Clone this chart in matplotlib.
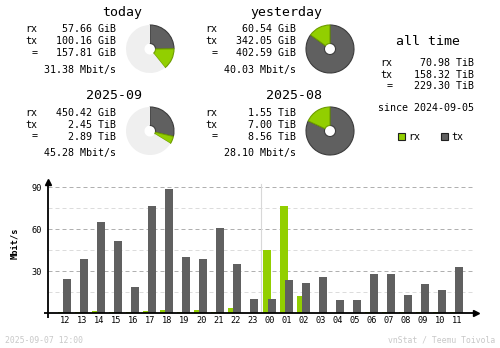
import numpy as np
import matplotlib
matplotlib.use('Agg')
import matplotlib.pyplot as plt
from matplotlib.patches import Patch

plt.rcParams['font.family'] = ['DejaVu Sans Mono']

RX = '#92cf00'
TX = '#606060'
RX_EDGE = '#6e9c00'
TX_EDGE = '#3c3c3c'
PIE_BG = '#efefef'
FAINT = '#c8c8c8'

# hourly average rate, Mbit/s
hours = ['12', '13', '14', '15', '16', '17', '18', '19', '20', '21', '22', '23',
         '00', '01', '02', '03', '04', '05', '06', '07', '08', '09', '10', '11']
rx_rate = [0.7, 0.7, 1.4, 0.7, 0.7, 1.4, 2.1, 0.7, 2.1, 0.7, 3.8, 0.0,
           45.1, 76.5, 12.1, 0.0, 0.0, 0.0, 0.7, 0.7, 0.7, 0.7, 0.7, 0.7]
tx_rate = [24.3, 38.7, 65.2, 51.6, 18.6, 76.6, 88.8, 40.1, 38.7, 60.9, 35.1, 10.0,
           10.0, 23.6, 21.5, 25.8, 9.3, 9.3, 27.9, 27.9, 12.9, 20.8, 16.5, 32.9]

# summary blocks
periods = ['today', 'yesterday', '2025-09', '2025-08']
rx_val = [57.66, 60.54, 450.42, 1.55]
rx_unit = ['GiB', 'GiB', 'GiB', 'TiB']
tx_val = [100.16, 342.05, 2.45, 7.00]
tx_unit = ['GiB', 'GiB', 'TiB', 'TiB']
sum_val = [157.81, 402.59, 2.89, 8.56]
sum_unit = ['GiB', 'GiB', 'TiB', 'TiB']
avg_rate = [31.38, 40.03, 45.28, 28.10]

alltime_val = [70.98, 158.32, 229.30]
alltime_unit = ['TiB', 'TiB', 'TiB']
since = '2024-09-05'
stamp = '2025-09-07 12:00'

W, H = 500, 348


def gib(v, u):
    return v * 1024 if u == 'TiB' else v


def fmt(v, u):
    return f'{v:.2f} {u}'


fig = plt.figure(figsize=(W / 100, H / 100), dpi=100)
bg = fig.add_axes([0, 0, 1, 1])
bg.set_xlim(0, W)
bg.set_ylim(H, 0)
bg.axis('off')

body = dict(fontsize=7.2, color='black', va='baseline')

# block origin: (x offset, title baseline)
blocks = [(0, 16), (180, 16), (0, 99), (180, 99)]
title_right = [142, 322, 142, 322]
pie_y = [49, 49, 131, 131]

def draw_pie(cx, cy, rx_g, tx_g, share):
    pax = fig.add_axes([(cx - 26) / W, (H - cy - 26) / H, 52 / W, 52 / H])
    tot = rx_g + tx_g
    sizes = [tx_g / tot * share, rx_g / tot * share]
    colors = [TX, RX]
    edges = [TX_EDGE, RX_EDGE]
    widths = [0.8, 0.8]
    if share < 0.999:
        sizes.append(1 - share)
        colors.append(PIE_BG)
        edges.append(PIE_BG)
        widths.append(0)
    wedges, _ = pax.pie(sizes, colors=colors, startangle=90, counterclock=False,
                        normalize=False, wedgeprops=dict(width=0.77))
    for w, e, lw in zip(wedges, edges, widths):
        w.set_edgecolor(e)
        w.set_linewidth(lw)
    lim = 26 / 24
    pax.set_xlim(-lim, lim)
    pax.set_ylim(-lim, lim)
    pax.axis('off')


for i, name in enumerate(periods):
    ox, tb = blocks[i]
    bg.text(title_right[i], tb, name, fontsize=9.5, ha='right', va='baseline')
    rows = [('rx', fmt(rx_val[i], rx_unit[i])),
            ('tx', fmt(tx_val[i], tx_unit[i])),
            ('=', fmt(sum_val[i], sum_unit[i]))]
    for j, (lab, val) in enumerate(rows):
        y = tb + 16.5 + 12 * j
        bg.text(37.5 + ox, y, lab, ha='right', **body)
        bg.text(115.5 + ox, y, val, ha='right', **body)
    bg.text(115.5 + ox, tb + 57, f'{avg_rate[i]:.2f} Mbit/s', ha='right', **body)

    # today is compared with yesterday, this month with last month
    pair = i - i % 2
    ref = max(gib(sum_val[pair], sum_unit[pair]), gib(sum_val[pair + 1], sum_unit[pair + 1]))
    share = gib(sum_val[i], sum_unit[i]) / ref
    draw_pie(150 + ox, pie_y[i], gib(rx_val[i], rx_unit[i]), gib(tx_val[i], tx_unit[i]), share)

# all time block
bg.text(428.5, 45, 'all time', fontsize=9.5, ha='center', va='baseline')
for j, lab in enumerate(['rx', 'tx', '=']):
    y = 66 + 11.7 * j
    bg.text(392.5, y, lab, ha='right', **body)
    bg.text(474.5, y, fmt(alltime_val[j], alltime_unit[j]), ha='right', **body)
bg.text(474.5, 111, 'since ' + since, ha='right', **body)

handles = [Patch(facecolor=RX, edgecolor='#202020', linewidth=0.8),
           Patch(facecolor=TX, edgecolor='#202020', linewidth=0.8)]
fig.legend(handles, ['rx', 'tx'], loc='center', bbox_to_anchor=(430.5 / W, (H - 136.5) / H),
           ncol=2, frameon=False, fontsize=7.2, handlelength=0.7, handleheight=0.7,
           handletextpad=0.4, columnspacing=2.0, borderpad=0)

# footer
bg.text(5, 342.7, stamp, fontsize=5.9, color=FAINT, ha='left', va='baseline')
bg.text(495, 342.7, 'vnStat / Teemu Toivola', fontsize=5.9, color=FAINT, ha='right', va='baseline')

# hourly bar chart
ax = fig.add_axes([48 / W, (H - 313) / H, 425 / W, 132 / H])
ax.patch.set_alpha(0)
x = np.arange(len(hours))
ax.bar(x - 0.176, rx_rate, width=0.47, color=RX, linewidth=0, zorder=3)
ax.bar(x + 0.117, tx_rate, width=0.47, color=TX, linewidth=0, zorder=4)
ax.set_xlim(-1.0, 23.94)
ax.set_ylim(0, 94.3)

for v in [15, 45, 75]:
    ax.axhline(v, color='#dcdcdc', lw=0.72, ls=(0, (4, 3)), zorder=1)
for v in [30, 60, 90]:
    ax.axhline(v, color='#b0b0b0', lw=0.72, ls=(0, (4, 3)), zorder=1)
ax.axvline(11.5, ymax=(313 - 184) / 132, color='#d8d8d8', lw=0.8, zorder=2)

for s in ax.spines.values():
    s.set_visible(False)
ax.plot([-4 / 425, 428 / 425], [0, 0], transform=ax.transAxes, color='black',
        lw=1.3, clip_on=False, zorder=5, solid_capstyle='butt')
ax.plot([0, 0], [-5 / 132, 1.0], transform=ax.transAxes, color='black',
        lw=1.3, clip_on=False, zorder=5, solid_capstyle='butt')
ax.plot([427.5 / 425], [0], transform=ax.transAxes, marker='>', ms=4, color='black',
        clip_on=False, zorder=6)
ax.plot([0], [131 / 132], transform=ax.transAxes, marker='^', ms=4, color='black',
        clip_on=False, zorder=6)

ax.set_xticks(x, hours)
ax.set_yticks([30, 60, 90])
ax.tick_params(axis='x', length=0, pad=2.5, labelsize=6.2)
ax.tick_params(axis='y', length=0, pad=4.5, labelsize=6.2)
ax.set_ylabel('Mbit/s', fontsize=6.2, fontweight='bold', va='center')
ax.yaxis.set_label_coords((14.5 - 48) / 425, (313 - 243) / 132)

fig.savefig('out.png', dpi=100, facecolor='white')
